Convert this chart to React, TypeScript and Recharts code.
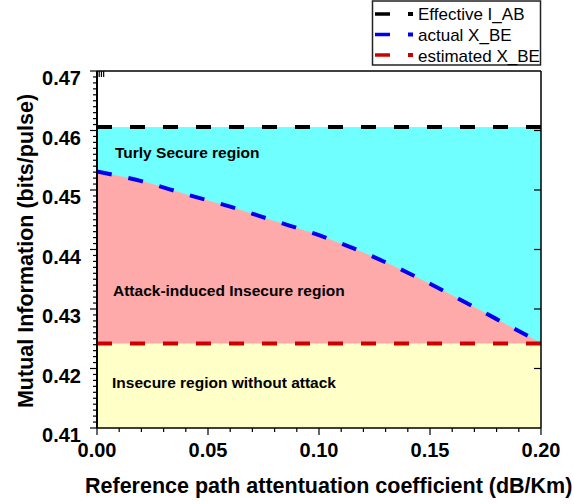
import React from 'react';
import { ComposedChart, Area, Line, XAxis, YAxis } from 'recharts';

// values
const coefficient = [0, 0.02, 0.04, 0.06, 0.08, 0.1, 0.12, 0.14, 0.16, 0.18, 0.2];
const effectiveIAB = [0.4606, 0.4606, 0.4606, 0.4606, 0.4606, 0.4606, 0.4606, 0.4606, 0.4606, 0.4606, 0.4606];
const actualXBE = [0.4531, 0.4515, 0.4493, 0.4472, 0.4448, 0.4424, 0.4395, 0.4361, 0.4323, 0.4283, 0.4243];
const estimatedXBE = [0.4242, 0.4242, 0.4242, 0.4242, 0.4242, 0.4242, 0.4242, 0.4242, 0.4242, 0.4242, 0.4242];

const xTicks = [0, 0.01, 0.02, 0.03, 0.04, 0.05, 0.06, 0.07, 0.08, 0.09, 0.1, 0.11, 0.12, 0.13, 0.14, 0.15, 0.16, 0.17, 0.18, 0.19, 0.2];
const xTopTicks = [0.05, 0.1, 0.15];
const yRightTicks = [0.42, 0.43, 0.44, 0.45, 0.46];
const yMinorStep = 0.001;
const yTicks = Array.from({ length: 61 }, (_, i) => Math.round((0.41 + i * yMinorStep) * 1000) / 1000);

const legendItems = [
  { name: 'Effective I_AB', color: '#000000' },
  { name: 'actual X_BE', color: '#0000ee' },
  { name: 'estimated X_BE', color: '#cc0000' },
];

const regionLabels = [
  { text: 'Turly Secure region', x: 115, y: 158 },
  { text: 'Attack-induced Insecure region', x: 113, y: 296 },
  { text: 'Insecure region without attack', x: 112, y: 388 },
];

const FONT = '"Liberation Sans", Arial, Helvetica, sans-serif';

const chartData = coefficient.map((c, i) => ({
  coefficient: c,
  effective: effectiveIAB[i],
  actual: actualXBE[i],
  estimated: estimatedXBE[i],
}));

// left axis: long outward ticks with labels every 0.01, short ones every 0.001
const LeftTick = (props: any) => {
  const { x, y, payload } = props;
  const major = Math.round(payload.value * 1000) % 10 === 0;
  return (
    <g>
      <line x1={x} x2={x - (major ? 7 : 4)} y1={y} y2={y} stroke="#000" strokeWidth={1.2} />
      {major && (
        <text x={x - 16} y={y + 14} textAnchor="end" fontFamily={FONT} fontWeight="bold" fontSize={20} fill="#000">
          {payload.value.toFixed(2)}
        </text>
      )}
    </g>
  );
};

// bottom axis: labels every 0.05, minor ticks every 0.01
const BottomTick = (props: any) => {
  const { x, y, payload } = props;
  const major = Math.round(payload.value * 100) % 5 === 0;
  return (
    <g>
      <line x1={x} x2={x} y1={y} y2={y + (major ? 7 : 4)} stroke="#000" strokeWidth={1.2} />
      {major && (
        <text x={x} y={y + 29} textAnchor="middle" fontFamily={FONT} fontWeight="bold" fontSize={20} fill="#000">
          {payload.value.toFixed(2)}
        </text>
      )}
    </g>
  );
};

const Empty = () => <g />;

export default function App() {
  return (
    <div style={{ position: 'absolute', left: 0, top: 0, width: 574, height: 504, background: '#fff' }}>
      <ComposedChart
        width={574}
        height={504}
        data={chartData}
        margin={{ top: 71, right: 33, bottom: 75, left: 96 }}
      >
        <XAxis
          dataKey="coefficient"
          type="number"
          domain={[0, 0.2]}
          allowDataOverflow
          ticks={xTicks}
          interval={0}
          height={1}
          tickSize={0}
          tickMargin={0}
          tickLine={false}
          tick={<BottomTick />}
          axisLine={{ stroke: '#000', strokeWidth: 1.5 }}
        />
        <XAxis
          xAxisId="top"
          orientation="top"
          mirror
          type="number"
          domain={[0, 0.2]}
          allowDataOverflow
          ticks={xTopTicks}
          interval={0}
          height={1}
          tickSize={6}
          tickLine={{ stroke: '#000', strokeWidth: 1.2 }}
          tick={<Empty />}
          axisLine={{ stroke: '#000', strokeWidth: 1.5 }}
        />
        <YAxis
          type="number"
          domain={[0.41, 0.47]}
          allowDataOverflow
          ticks={yTicks}
          interval={0}
          width={1}
          tickSize={0}
          tickMargin={0}
          tickLine={false}
          tick={<LeftTick />}
          axisLine={{ stroke: '#000', strokeWidth: 2 }}
        />
        <YAxis
          yAxisId="right"
          orientation="right"
          mirror
          type="number"
          domain={[0.41, 0.47]}
          allowDataOverflow
          ticks={yRightTicks}
          interval={0}
          width={1}
          tickSize={7}
          tickLine={{ stroke: '#000', strokeWidth: 1.2 }}
          tick={<Empty />}
          axisLine={{ stroke: '#000', strokeWidth: 1.5 }}
        />
        <Area type="linear" dataKey="effective" fill="#70ffff" fillOpacity={1} stroke="none" baseValue="dataMin" isAnimationActive={false} />
        <Area type="monotone" dataKey="actual" fill="#ffaaaa" fillOpacity={1} stroke="none" baseValue="dataMin" isAnimationActive={false} />
        <Area type="linear" dataKey="estimated" fill="#ffffc8" fillOpacity={1} stroke="none" baseValue="dataMin" isAnimationActive={false} />
        <Line type="linear" dataKey="estimated" stroke="#cc0000" strokeWidth={4} strokeDasharray="15 18" dot={false} isAnimationActive={false} />
        <Line type="monotone" dataKey="actual" stroke="#0000ee" strokeWidth={4} strokeDasharray="15 17" dot={false} isAnimationActive={false} />
        <Line type="linear" dataKey="effective" stroke="#000000" strokeWidth={4} strokeDasharray="15 18" dot={false} isAnimationActive={false} />
      </ComposedChart>
      <svg width={574} height={504} style={{ position: 'absolute', left: 0, top: 0, pointerEvents: 'none' }}>
        {regionLabels.map((r) => (
          <text key={r.text} x={r.x} y={r.y} fontFamily={FONT} fontWeight="bold" fontSize={15.5} fill="#000">
            {r.text}
          </text>
        ))}
        <text transform="translate(33,251) rotate(-90)" textAnchor="middle" fontFamily={FONT} fontWeight="bold" fontSize={21.5} fill="#000">
          Mutual Information (bits/pulse)
        </text>
        <text x={85} y={493} fontFamily={FONT} fontWeight="bold" fontSize={21.5} fill="#000">
          Reference path attentuation coefficient (dB/Km)
        </text>
        <rect x={372.5} y={1} width={168} height={64} fill="#fff" stroke="#222" strokeWidth={1.5} />
        {legendItems.map((item, i) => (
          <g key={item.name}>
            <line x1={375} x2={390} y1={14 + i * 20.5} y2={14 + i * 20.5} stroke={item.color} strokeWidth={3.5} />
            <rect x={408} y={12 + i * 20.5} width={5} height={4} fill={item.color} />
            <text x={418} y={19.5 + i * 21} fontFamily={FONT} fontSize={17} fill="#000">
              {item.name}
            </text>
          </g>
        ))}
      </svg>
    </div>
  );
}
